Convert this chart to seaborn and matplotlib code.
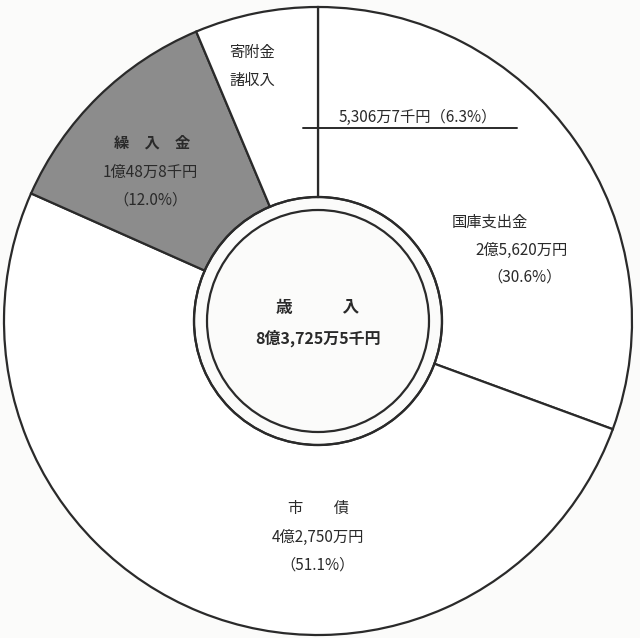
"""Donut chart of the city's revenue breakdown (歳入)."""
import matplotlib
matplotlib.use('Agg')
import matplotlib.pyplot as plt
import seaborn as sns
from matplotlib.patches import Circle

sns.set_theme(style='white')
plt.rcParams['font.family'] = ['Noto Sans CJK JP', 'DejaVu Sans']

# revenue items, clockwise from the top (unit: 万円)
items = ['国庫支出金', '市債', '繰入金', '寄附金諸収入']
values = [25620, 42750, 10048.8, 5306.7]
amounts = ['2億5,620万円', '4億2,750万円', '1億48万8千円', '5,306万7千円']
pcts = ['30.6%', '51.1%', '12.0%', '6.3%']
colors = ['white', 'white', '#8c8c8c', 'white']
total_label = '8億3,725万5千円'

W, H = 640, 638
cx, cy, r_out, r_ring, r_in = 318, H - 321, 314, 124, 111
ink = '#2a2a2a'

fig = plt.figure(figsize=(6.4, 6.38), dpi=100)
fig.patch.set_facecolor('#fbfbfa')
ax = fig.add_axes([0, 0, 1, 1])

ax.pie(values, colors=colors, startangle=90, counterclock=False,
       center=(cx, cy), radius=r_out, frame=True,
       wedgeprops=dict(width=r_out - r_ring, edgecolor=ink, linewidth=1.6))
ax.set_xlim(0, W)
ax.set_ylim(0, H)
ax.set_aspect('equal')
ax.axis('off')
ax.add_patch(Circle((cx, cy), r_ring, fill=False, edgecolor=ink, lw=1.6))
ax.add_patch(Circle((cx, cy), r_in, facecolor='#fbfbfa', edgecolor=ink, lw=1.6))

def put(x, y, s, size=11, weight='normal'):
    ax.text(x, H - y, s, ha='center', va='center', fontsize=size,
            color=ink, fontweight=weight)

# 国庫支出金
put(490, 222, items[0])
put(522, 250, amounts[0])
put(525, 277, f'（{pcts[0]}）')
# 市債
put(318, 508, '市　　債')
put(318, 537, amounts[1])
put(318, 565, f'（{pcts[1]}）')
# 繰入金
put(152, 143, '繰　入　金', weight='bold')
put(150, 172, amounts[2])
put(150, 200, f'（{pcts[2]}）')
# 寄附金諸収入
put(252, 52, items[3][:3])
put(252, 80, items[3][3:])
put(418, 117, f'{amounts[3]}（{pcts[3]}）')
ax.plot([303, 517], [H - 128, H - 128], color=ink, lw=1.4)

# centre
put(318, 308, '歳　　　入', size=12, weight='bold')
put(318, 338, total_label, size=11.5, weight='bold')

fig.savefig('out.png', dpi=100, facecolor=fig.get_facecolor())
